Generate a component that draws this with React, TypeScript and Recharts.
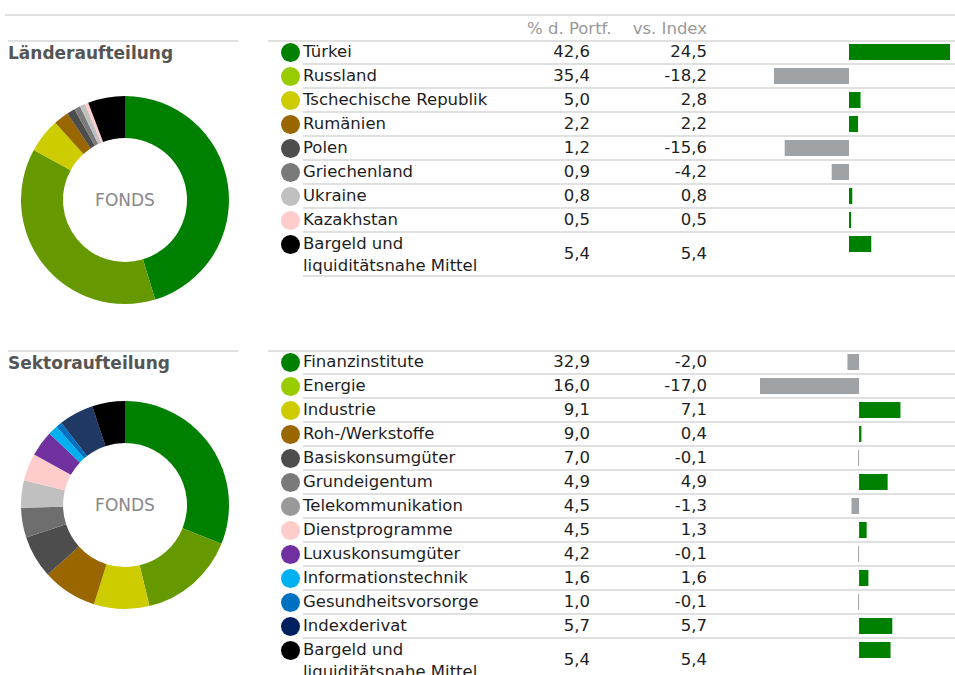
import React from 'react';
import { PieChart, Pie, Cell, Label, BarChart, Bar, XAxis, YAxis } from 'recharts';

const countryNames = ['Türkei', 'Russland', 'Tschechische Republik', 'Rumänien', 'Polen', 'Griechenland', 'Ukraine', 'Kazakhstan', 'Bargeld und\nliquiditätsnahe Mittel'];
const countryPortf = [42.6, 35.4, 5.0, 2.2, 1.2, 0.9, 0.8, 0.5, 5.4];
const countryVsIndex = [24.5, -18.2, 2.8, 2.2, -15.6, -4.2, 0.8, 0.5, 5.4];
const countryLegendColors = ['#008000', '#99cc00', '#cccc00', '#996600', '#4d4d4d', '#7a7a7a', '#c0c0c0', '#ffcccc', '#000000'];
const countryPieColors = ['#008000', '#669900', '#cccc00', '#996600', '#4d4d4d', '#7a7a7a', '#c0c0c0', '#ffcccc', '#000000'];

const sectorNames = ['Finanzinstitute', 'Energie', 'Industrie', 'Roh-/Werkstoffe', 'Basiskonsumgüter', 'Grundeigentum', 'Telekommunikation', 'Dienstprogramme', 'Luxuskonsumgüter', 'Informationstechnik', 'Gesundheitsvorsorge', 'Indexderivat', 'Bargeld und\nliquiditätsnahe Mittel'];
const sectorPortf = [32.9, 16.0, 9.1, 9.0, 7.0, 4.9, 4.5, 4.5, 4.2, 1.6, 1.0, 5.7, 5.4];
const sectorVsIndex = [-2.0, -17.0, 7.1, 0.4, -0.1, 4.9, -1.3, 1.3, -0.1, 1.6, -0.1, 5.7, 5.4];
const sectorLegendColors = ['#008000', '#99cc00', '#cccc00', '#996600', '#4d4d4d', '#7a7a7a', '#999999', '#ffcccc', '#7030a0', '#00b0f0', '#0070c0', '#002060', '#000000'];
const sectorPieColors = ['#008000', '#669900', '#cccc00', '#996600', '#4d4d4d', '#6e6e6e', '#c0c0c0', '#ffcccc', '#7030a0', '#00b0f0', '#0070c0', '#1f3864', '#000000'];

const FONT = '"DejaVu Sans", sans-serif';
const LINE = '#e0e0e0';
const ROW_H = 24;
const fmt = (v: number) => v.toFixed(1).replace('.', ',');

interface SectionProps {
  title: string;
  top: number;
  names: string[];
  portf: number[];
  vsIndex: number[];
  legendColors: string[];
  pieColors: string[];
  pieCy: number;
  barLeft: number;
  barWidth: number;
  domain: [number, number];
}

const Section: React.FC<SectionProps> = ({ title, top, names, portf, vsIndex, legendColors, pieColors, pieCy, barLeft, barWidth, domain }) => {
  const pieData = names.map((n, i) => ({ name: n, value: portf[i] }));
  const barData = names.map((n, i) => ({ name: n, value: vsIndex[i] }));
  const txt: React.CSSProperties = { position: 'absolute', fontFamily: FONT, fontSize: 16.5, color: '#1e1e1e', lineHeight: '22px', whiteSpace: 'nowrap' };

  return (
    <>
      <div style={{ position: 'absolute', left: 8, top: top, width: 230, height: 2, background: LINE }} />
      <div style={{ position: 'absolute', left: 8, top: top + 2, fontFamily: FONT, fontWeight: 'bold', fontSize: 17, color: '#555', lineHeight: '22px' }}>{title}</div>
      <div style={{ position: 'absolute', left: 268, top: top, width: 687, height: 2, background: LINE }} />

      <div style={{ position: 'absolute', left: 125 - 110, top: pieCy - 110 }}>
        <PieChart width={220} height={220} margin={{ top: 0, right: 0, bottom: 0, left: 0 }}>
          <Pie data={pieData} dataKey="value" cx={110} cy={110} innerRadius={62} outerRadius={104} startAngle={90} endAngle={-270} stroke="none" isAnimationActive={false}>
            {pieData.map((d, i) => <Cell key={d.name} fill={pieColors[i]} />)}
            <Label value="FONDS" position="center" fill="#888" fontSize={17} fontFamily={FONT} />
          </Pie>
        </PieChart>
      </div>

      {names.map((n, i) => {
        const rowTop = top + i * ROW_H;
        const lines = n.split('\n');
        const rowH = lines.length > 1 ? 44 : ROW_H;
        const mid = rowTop + rowH / 2;
        return (
          <React.Fragment key={n}>
            <div style={{ position: 'absolute', left: 281, top: rowTop + 3, width: 19, height: 19, borderRadius: '50%', background: legendColors[i] }} />
            {lines.map((l, k) => (
              <div key={l} style={{ ...txt, left: 303, top: rowTop + 1 + k * 22 }}>{l}</div>
            ))}
            <div style={{ ...txt, left: 490, width: 100, textAlign: 'right', top: mid - 11 }}>{fmt(portf[i])}</div>
            <div style={{ ...txt, left: 607, width: 100, textAlign: 'right', top: mid - 11 }}>{fmt(vsIndex[i])}</div>
            <div style={{ position: 'absolute', left: 303, top: rowTop + rowH - 1, width: 652, height: 2, background: LINE }} />
          </React.Fragment>
        );
      })}

      <div style={{ position: 'absolute', left: barLeft, top: top }}>
        <BarChart width={barWidth} height={names.length * ROW_H} data={barData} layout="vertical" margin={{ top: 0, right: 0, bottom: 0, left: 0 }}>
          <XAxis type="number" domain={domain} hide allowDataOverflow />
          <YAxis type="category" dataKey="name" hide />
          <Bar dataKey="value" barSize={16} minPointSize={1} isAnimationActive={false}>
            {barData.map((d) => <Cell key={d.name} fill={d.value >= 0 ? '#008000' : '#a0a3a6'} />)}
          </Bar>
        </BarChart>
      </div>
    </>
  );
};

export default function App() {
  const head: React.CSSProperties = { position: 'absolute', top: 18, fontFamily: FONT, fontSize: 16.5, color: '#999', lineHeight: '22px', whiteSpace: 'nowrap' };
  return (
    <div style={{ position: 'absolute', left: 0, top: 0, width: 955, height: 675, overflow: 'hidden', background: '#fff' }}>
      <div style={{ position: 'absolute', left: 5, top: 14, width: 950, height: 2, background: LINE }} />
      <div style={{ ...head, left: 527 }}>% d. Portf.</div>
      <div style={{ ...head, left: 587, width: 120, textAlign: 'right' }}>vs. Index</div>
      <Section title="Länderaufteilung" top={40} names={countryNames} portf={countryPortf} vsIndex={countryVsIndex}
        legendColors={countryLegendColors} pieColors={countryPieColors} pieCy={200} barLeft={748} barWidth={202} domain={[-24.5, 24.5]} />
      <Section title="Sektoraufteilung" top={350} names={sectorNames} portf={sectorPortf} vsIndex={sectorVsIndex}
        legendColors={sectorLegendColors} pieColors={sectorPieColors} pieCy={505} barLeft={760} barWidth={190} domain={[-17, 15.6]} />
    </div>
  );
}
